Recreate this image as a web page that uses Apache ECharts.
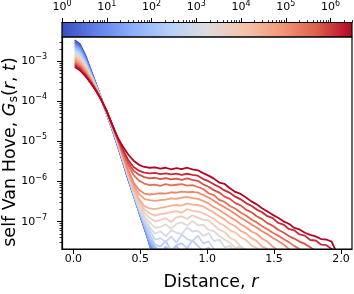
<!DOCTYPE html>
<html><head><meta charset="utf-8">
<script src="https://cdn.jsdelivr.net/npm/echarts@6/dist/echarts.min.js"></script>
<style>html,body{margin:0;padding:0;background:#fff}#c{width:354px;height:294px}</style>
</head><body><div id="c"></div>
<script>
// ---- data ----
const distance = [0.01,0.05,0.09,0.13,0.17,0.21,0.25,0.29,0.33,0.37,0.41,0.45,0.49,0.53,0.57,0.61,0.65,0.69,0.73,0.77,0.81,0.85,0.89,0.93,0.97,1.01,1.05,1.09,1.13,1.17,1.21,1.25,1.29,1.33,1.37,1.41,1.45,1.49,1.53,1.57,1.61,1.65,1.69,1.73,1.77,1.81,1.85,1.89,1.93,1.97,2.01];
const times = [1, 2.2, 4.8, 10.5, 23, 51, 111, 244, 535, 1170, 2570, 5640, 12400, 27100, 59400, 130000, 286000, 627000, 1370000, 3010000];

const G_t0 = [3.3e-3,2.6e-3,1.38e-3,6.0e-4,2.6e-4,1.12e-4,4.8e-5,2.0e-5,7.9e-6,3.0e-6,1.12e-6,4.5e-7,1.78e-7,7.1e-8,2.8e-8,1.0e-8];
const G_t1 = [3.0e-3,2.4e-3,1.29e-3,5.75e-4,2.57e-4,1.12e-4,4.8e-5,2.04e-5,8.1e-6,3.1e-6,1.15e-6,4.6e-7,1.82e-7,7.2e-8,2.8e-8,1.0e-8];
const G_t2 = [2.8e-3,2.24e-3,1.23e-3,5.6e-4,2.5e-4,1.12e-4,4.9e-5,2.04e-5,8.3e-6,3.16e-6,1.17e-6,4.7e-7,1.82e-7,7.2e-8,2.75e-8,1.05e-8];
const G_t3 = [2.6e-3,2.1e-3,1.15e-3,5.4e-4,2.45e-4,1.12e-4,4.9e-5,2.1e-5,8.5e-6,3.2e-6,1.23e-6,4.8e-7,1.86e-7,7.4e-8,2.8e-8,1.1e-8];
const G_t4 = [2.4e-3,1.9e-3,1.07e-3,5.1e-4,2.4e-4,1.1e-4,4.9e-5,2.14e-5,8.7e-6,3.3e-6,1.26e-6,4.8e-7,1.86e-7,7.6e-8,3.0e-8,1.66e-8,2.1e-8,1.1e-8];
const G_t5 = [2.24e-3,1.78e-3,1.0e-3,4.9e-4,2.4e-4,1.1e-4,5.0e-5,2.14e-5,8.9e-6,3.4e-6,1.29e-6,4.9e-7,1.9e-7,7.9e-8,3.3e-8,2.0e-8,1.41e-8,2.24e-8,1.1e-8];
const G_t6 = [2.04e-3,1.62e-3,9.5e-4,4.8e-4,2.34e-4,1.1e-4,5.0e-5,2.2e-5,9.1e-6,3.5e-6,1.32e-6,5.0e-7,2.0e-7,8.5e-8,3.8e-8,2.4e-8,1.78e-8,2.4e-8,1.66e-8,2.5e-8,1.58e-8,2.2e-8,1.1e-8];
const G_t7 = [1.9e-3,1.51e-3,8.9e-4,4.6e-4,2.3e-4,1.1e-4,5.0e-5,2.2e-5,9.3e-6,3.55e-6,1.35e-6,5.1e-7,2.1e-7,9.3e-8,4.9e-8,2.7e-8,2.4e-8,3.3e-8,1.9e-8,2.6e-8,2.9e-8,2.2e-8,3.4e-8,2.5e-8,1.8e-8,2.3e-8,1.1e-8];
const G_t8 = [1.74e-3,1.38e-3,8.3e-4,4.4e-4,2.24e-4,1.1e-4,5.1e-5,2.24e-5,9.5e-6,3.6e-6,1.38e-6,5.25e-7,2.14e-7,1.05e-7,6.2e-8,3.6e-8,3.9e-8,3.1e-8,4.3e-8,3.0e-8,4.8e-8,3.7e-8,3.3e-8,4.5e-8,2.9e-8,3.2e-8,2.1e-8,1.5e-8,1.9e-8,1.0e-8];
const G_t9 = [1.62e-3,1.29e-3,7.8e-4,4.2e-4,2.2e-4,1.1e-4,5.1e-5,2.3e-5,9.8e-6,3.7e-6,1.41e-6,5.5e-7,2.3e-7,1.2e-7,7.4e-8,5.0e-8,5.8e-8,4.3e-8,6.1e-8,5.3e-8,5.0e-8,7.2e-8,5.7e-8,6.0e-8,4.4e-8,5.2e-8,3.3e-8,3.6e-8,2.3e-8,2.5e-8,1.6e-8,1.0e-8];
const G_t10 = [1.48e-3,1.17e-3,7.4e-4,4.1e-4,2.14e-4,1.1e-4,5.1e-5,2.3e-5,1.0e-5,3.8e-6,1.48e-6,5.75e-7,2.5e-7,1.38e-7,9.6e-8,7.0e-8,7.4e-8,8.6e-8,6.6e-8,8.8e-8,9.6e-8,8.0e-8,1.05e-7,8.1e-8,8.4e-8,6.3e-8,5.8e-8,4.4e-8,3.6e-8,3.0e-8,2.2e-8,2.4e-8,1.5e-8,1.0e-8];
const G_t11 = [1.38e-3,1.1e-3,6.9e-4,3.9e-4,2.1e-4,1.07e-4,5.25e-5,2.34e-5,1.05e-5,4.0e-6,1.55e-6,6.3e-7,2.95e-7,1.66e-7,1.25e-7,1.02e-7,1.1e-7,1.22e-7,9.8e-8,1.28e-7,1.36e-7,1.18e-7,1.45e-7,1.26e-7,1.12e-7,1.08e-7,8.2e-8,6.3e-8,5.6e-8,4.0e-8,3.4e-8,2.4e-8,2.0e-8,1.3e-8];
const G_t12 = [1.26e-3,1.0e-3,6.5e-4,3.7e-4,2.04e-4,1.07e-4,5.25e-5,2.4e-5,1.07e-5,4.1e-6,1.58e-6,6.6e-7,3.3e-7,2.0e-7,1.62e-7,1.41e-7,1.55e-7,1.6e-7,1.72e-7,1.82e-7,1.66e-7,2.05e-7,1.86e-7,1.8e-7,1.62e-7,1.38e-7,1.18e-7,9.2e-8,7.9e-8,6.1e-8,5.4e-8,4.1e-8,3.5e-8,2.6e-8,2.2e-8,1.4e-8];
const G_t13 = [1.17e-3,9.3e-4,6.0e-4,3.55e-4,2.0e-4,1.07e-4,5.4e-5,2.4e-5,1.1e-5,4.2e-6,1.62e-6,7.2e-7,3.7e-7,2.45e-7,2.15e-7,2.05e-7,2.2e-7,2.32e-7,2.5e-7,2.6e-7,2.52e-7,2.85e-7,2.66e-7,2.6e-7,2.4e-7,2.0e-7,1.7e-7,1.36e-7,1.14e-7,9.0e-8,7.7e-8,5.9e-8,5.1e-8,3.9e-8,3.3e-8,2.4e-8,2.1e-8,1.3e-8];
const G_t14 = [1.07e-3,8.5e-4,5.75e-4,3.5e-4,1.95e-4,1.07e-4,5.4e-5,2.45e-5,1.12e-5,4.4e-6,1.78e-6,8.3e-7,4.9e-7,3.7e-7,3.45e-7,3.3e-7,3.45e-7,3.55e-7,3.8e-7,3.7e-7,3.95e-7,4.15e-7,3.85e-7,3.7e-7,3.3e-7,2.85e-7,2.3e-7,1.95e-7,1.6e-7,1.3e-7,1.1e-7,8.6e-8,7.3e-8,5.7e-8,5.0e-8,3.8e-8,3.2e-8,2.4e-8,1.9e-8,1.2e-8];
const G_t15 = [1.0e-3,7.9e-4,5.4e-4,3.3e-4,1.95e-4,1.07e-4,5.5e-5,2.45e-5,1.15e-5,4.5e-6,1.95e-6,9.5e-7,6.2e-7,5.0e-7,4.75e-7,4.9e-7,5.1e-7,5.0e-7,5.4e-7,5.3e-7,5.6e-7,5.45e-7,5.5e-7,5.3e-7,4.6e-7,4.0e-7,3.3e-7,2.7e-7,2.3e-7,1.9e-7,1.55e-7,1.25e-7,1.05e-7,8.5e-8,7.2e-8,5.8e-8,4.9e-8,4.0e-8,3.3e-8,2.7e-8,2.1e-8,1.3e-8];
const G_t16 = [9.1e-4,7.2e-4,5.0e-4,3.16e-4,1.9e-4,1.07e-4,5.5e-5,2.5e-5,1.17e-5,5.25e-6,2.5e-6,1.45e-6,1.05e-6,8.9e-7,8.1e-7,8.4e-7,7.8e-7,8.6e-7,8.0e-7,8.3e-7,8.6e-7,7.9e-7,8.1e-7,7.3e-7,6.5e-7,5.1e-7,4.6e-7,3.5e-7,3.1e-7,2.45e-7,2.1e-7,1.7e-7,1.42e-7,1.13e-7,9.6e-8,7.7e-8,6.5e-8,5.3e-8,4.5e-8,3.7e-8,3.1e-8,2.5e-8,2.1e-8,1.26e-8];
const G_t17 = [8.5e-4,6.8e-4,4.7e-4,3.0e-4,1.86e-4,1.05e-4,5.5e-5,2.57e-5,1.2e-5,5.75e-6,2.95e-6,1.86e-6,1.48e-6,1.29e-6,1.2e-6,1.24e-6,1.14e-6,1.21e-6,1.13e-6,1.18e-6,1.1e-6,1.19e-6,1.1e-6,1.04e-6,8.5e-7,7.4e-7,6.1e-7,5.3e-7,4.2e-7,3.7e-7,2.9e-7,2.55e-7,2.0e-7,1.72e-7,1.36e-7,1.16e-7,9.2e-8,7.9e-8,6.3e-8,5.4e-8,4.4e-8,3.8e-8,3.2e-8,2.8e-8,2.3e-8,1.9e-8,1.26e-8];
const G_t18 = [7.8e-4,6.2e-4,4.5e-4,2.95e-4,1.82e-4,1.05e-4,5.6e-5,2.57e-5,1.23e-5,6.3e-6,3.4e-6,2.3e-6,1.86e-6,1.66e-6,1.6e-6,1.64e-6,1.53e-6,1.6e-6,1.5e-6,1.57e-6,1.47e-6,1.56e-6,1.46e-6,1.4e-6,1.15e-6,1.02e-6,8.5e-7,7.3e-7,6.0e-7,5.2e-7,4.2e-7,3.6e-7,2.9e-7,2.5e-7,2.0e-7,1.72e-7,1.37e-7,1.23e-7,9.3e-8,8.5e-8,6.6e-8,6.1e-8,4.8e-8,4.5e-8,3.5e-8,3.4e-8,2.7e-8,2.6e-8,2.1e-8,1.1e-8];
const G_t19 = [7.2e-4,5.8e-4,4.2e-4,2.8e-4,1.8e-4,1.05e-4,5.6e-5,2.6e-5,1.26e-5,7.4e-6,4.7e-6,3.3e-6,2.6e-6,2.3e-6,2.2e-6,2.24e-6,2.1e-6,2.2e-6,2.0e-6,2.14e-6,2.04e-6,2.2e-6,2.0e-6,1.9e-6,1.62e-6,1.4e-6,1.18e-6,9.4e-7,8.7e-7,6.8e-7,5.5e-7,4.9e-7,4.0e-7,3.2e-7,2.7e-7,2.15e-7,1.8e-7,1.48e-7,1.25e-7,1.02e-7,8.9e-8,7.0e-8,6.4e-8,5.3e-8,4.7e-8,4.3e-8,3.7e-8,3.6e-8,3.2e-8,1.6e-8];

const curves = [G_t0,G_t1,G_t2,G_t3,G_t4,G_t5,G_t6,G_t7,G_t8,G_t9,G_t10,G_t11,G_t12,G_t13,G_t14,G_t15,G_t16,G_t17,G_t18,G_t19];

const xTicks = [0, 0.5, 1.0, 1.5, 2.0];
const yTicks = [1e-7, 1e-6, 1e-5, 1e-4, 1e-3];
const yMinorTicks = [3e-8,4e-8,5e-8,6e-8,7e-8,8e-8,9e-8,
  2e-7,3e-7,4e-7,5e-7,6e-7,7e-7,8e-7,9e-7,
  2e-6,3e-6,4e-6,5e-6,6e-6,7e-6,8e-6,9e-6,
  2e-5,3e-5,4e-5,5e-5,6e-5,7e-5,8e-5,9e-5,
  2e-4,3e-4,4e-4,5e-4,6e-4,7e-4,8e-4,9e-4,
  2e-3,3e-3];
const cbTicks = [1, 10, 100, 1e3, 1e4, 1e5, 1e6];
const cbMinorTicks = [2,3,4,5,6,7,8,9,20,30,40,50,60,70,80,90,200,300,400,500,600,700,800,900,
  2e3,3e3,4e3,5e3,6e3,7e3,8e3,9e3,2e4,3e4,4e4,5e4,6e4,7e4,8e4,9e4,2e5,3e5,4e5,5e5,6e5,7e5,8e5,9e5,2e6,3e6];

// ---- styling helpers ----
const FONT = 'DejaVu Sans';
const cbMin = 1, cbMax = times[times.length - 1];
const cwStops = [[0,[59,76,192]],[0.125,[98,130,234]],[0.25,[141,176,254]],[0.375,[184,208,249]],
  [0.5,[221,221,221]],[0.625,[245,196,173]],[0.75,[244,154,123]],[0.875,[222,96,77]],[1,[180,4,38]]];
function coolwarm(f) {
  f = Math.max(0, Math.min(1, f));
  for (let j = 0; j < cwStops.length - 1; j++) {
    const a = cwStops[j], b = cwStops[j + 1];
    if (f <= b[0]) {
      const u = (f - a[0]) / (b[0] - a[0]);
      const c = a[1].map((v, q) => Math.round(v + (b[1][q] - v) * u));
      return 'rgb(' + c.join(',') + ')';
    }
  }
  return 'rgb(180,4,38)';
}
function timeColor(t) { return coolwarm(Math.log10(t / cbMin) / Math.log10(cbMax / cbMin)); }
function powLabel(v) {
  const e = Math.round(Math.log10(v));
  return '10{sup|' + (e < 0 ? '\u2212' + (-e) : e) + '}';
}
const tickRich = { sup: { fontSize: 8, fontFamily: FONT, color: '#000', padding: [0, 0, 8, 0] } };

const series = curves.map((vals, i) => ({
  type: 'line', xAxisIndex: 0, yAxisIndex: 0,
  data: vals.map((v, k) => [distance[k], v]),
  symbol: 'none', showSymbol: false, clip: true, silent: true,
  lineStyle: { width: 1.8, color: timeColor(times[i]) },
  z: 2
}));
series.push({
  type: 'custom', xAxisIndex: 1, yAxisIndex: 2, silent: true, clip: false,
  data: [[cbMin, cbMax]], encode: { x: [0, 1] },
  renderItem: function (params, api) {
    const p0 = api.coord([api.value(0), 0]);
    const p1 = api.coord([api.value(1), 1]);
    return {
      type: 'rect',
      shape: { x: p0[0], y: p1[1], width: p1[0] - p0[0], height: p0[1] - p1[1] },
      style: {
        fill: new echarts.graphic.LinearGradient(0, 0, 1, 0,
          cwStops.map(s => ({ offset: s[0], color: 'rgb(' + s[1].join(',') + ')' }))),
        stroke: '#000', lineWidth: 1.2
      }
    };
  }
});

const chart = echarts.init(document.getElementById('c'), null, { renderer: 'canvas' });
chart.setOption({
  animation: false,
  backgroundColor: '#fff',
  textStyle: { fontFamily: FONT },
  grid: [
    { left: 62, top: 37, width: 290, height: 212, show: true, borderColor: '#000', borderWidth: 1.2,
      backgroundColor: 'transparent', z: 3, containLabel: false, outerBoundsMode: 'none' },
    { left: 62, top: 22.5, width: 290, height: 14.5, containLabel: false, outerBoundsMode: 'none' }
  ],
  xAxis: [
    { gridIndex: 0, type: 'value', min: -0.085, max: 2.082, z: 4,
      axisLine: { onZero: false, lineStyle: { color: '#000', width: 1.2 } },
      axisTick: { show: true, length: 5, customValues: xTicks, lineStyle: { color: '#000', width: 1 } },
      axisLabel: { customValues: xTicks, margin: 5, fontSize: 11, color: '#000', fontFamily: FONT,
        formatter: v => v.toFixed(1) },
      splitLine: { show: false },
      name: 'Distance, {i|r}', nameLocation: 'middle', nameGap: 24, nameMoveOverlap: false,
      nameTextStyle: { fontSize: 17.5, color: '#000', fontFamily: FONT, padding: [0, 0, 0, 8],
        rich: { i: { fontSize: 17.5, fontStyle: 'italic', fontFamily: FONT, color: '#000' } } } },
    { gridIndex: 1, type: 'log', logBase: 10, min: cbMin, max: cbMax, position: 'top', z: 4,
      axisLine: { show: true, onZero: false, lineStyle: { color: '#000', width: 1.2 } },
      axisTick: { show: true, length: 4.5, customValues: cbTicks, lineStyle: { color: '#000', width: 1 } },
      axisLabel: { customValues: cbTicks, margin: 7, fontSize: 11, color: '#000', fontFamily: FONT,
        formatter: powLabel, rich: tickRich },
      splitLine: { show: false } },
    { gridIndex: 1, type: 'log', logBase: 10, min: cbMin, max: cbMax, position: 'top', z: 4,
      axisLine: { show: false, onZero: false },
      axisTick: { show: true, length: 2.5, customValues: cbMinorTicks, lineStyle: { color: '#000', width: 0.8 } },
      axisLabel: { show: false }, splitLine: { show: false } }
  ],
  yAxis: [
    { gridIndex: 0, type: 'log', logBase: 10, min: 2.09e-8, max: 3.95e-3, position: 'left', z: 4,
      axisLine: { show: true, onZero: false, lineStyle: { color: '#000', width: 1.2 } },
      axisTick: { show: true, length: 5, customValues: yTicks, lineStyle: { color: '#000', width: 1 } },
      axisLabel: { customValues: yTicks, margin: 15, fontSize: 11, color: '#000', fontFamily: FONT,
        formatter: powLabel, rich: tickRich },
      splitLine: { show: false },
      name: 'self Van Hove, {i|G}{sub|s}{n|(}{i|r}{n|, }{i|t}{n|)}',
      nameLocation: 'middle', nameRotate: 90, nameGap: 42, nameMoveOverlap: false,
      nameTextStyle: { fontSize: 17.5, color: '#000', fontFamily: FONT, padding: [0, 18, 0, 0],
        rich: {
          i: { fontSize: 17.5, fontStyle: 'italic', fontFamily: FONT, color: '#000' },
          n: { fontSize: 17.5, fontFamily: FONT, color: '#000' },
          sub: { fontSize: 12.5, fontFamily: FONT, color: '#000', padding: [7, 0, 0, 0] }
        } } },
    { gridIndex: 0, type: 'log', logBase: 10, min: 2.09e-8, max: 3.95e-3, position: 'left', z: 4,
      axisLine: { show: false, onZero: false },
      axisTick: { show: true, length: 2.5, customValues: yMinorTicks, lineStyle: { color: '#000', width: 0.8 } },
      axisLabel: { show: false }, splitLine: { show: false } },
    { gridIndex: 1, type: 'value', min: 0, max: 1, show: false }
  ],
  series: series
});
</script>
</body></html>
